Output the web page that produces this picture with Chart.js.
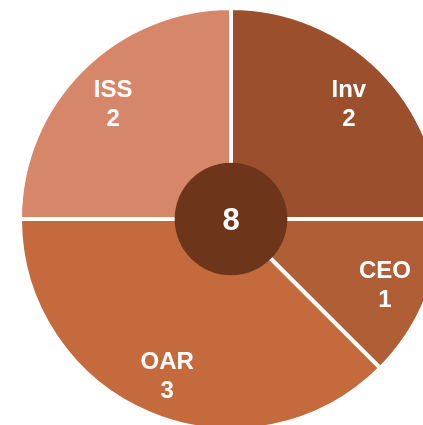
<!DOCTYPE html>
<html>
<head>
<meta charset="utf-8">
<script src="https://cdn.jsdelivr.net/npm/chart.js@4.4.0/dist/chart.umd.min.js"></script>
<style>
  html, body { margin: 0; padding: 0; overflow: hidden; background: #fff; }
  #wrap { width: 423px; height: 425px; overflow: hidden; position: relative; }
  canvas { position: absolute; left: 0; top: 0; }
</style>
</head>
<body>
<div id="wrap"><canvas id="pie" width="462" height="440"></canvas></div>
<script>
// Données
const categories = ['Inv', 'CEO', 'OAR', 'ISS'];
const counts = [2, 1, 3, 2];
const sliceColors = ['#9b4f2d', '#b05e36', '#c56a3d', '#d6876a'];
const centerColor = '#6d351a';

// Etiquettes dans les parts + total au centre
const pieLabels = {
    id: 'pieLabels',
    afterDatasetsDraw(chart) {
        const ctx = chart.ctx;
        const arcs = chart.getDatasetMeta(0).data;
        if (!arcs.length) return;
        const first = arcs[0];
        const cx = first.x, cy = first.y, r = first.outerRadius;

        ctx.save();
        ctx.fillStyle = '#fff';
        ctx.textAlign = 'center';
        ctx.textBaseline = 'middle';
        ctx.font = 'bold 24px "Liberation Sans", Arial, sans-serif';
        arcs.forEach((arc, i) => {
            const mid = (arc.startAngle + arc.endAngle) / 2;
            const lx = cx + Math.cos(mid) * r * 0.79;
            const ly = cy + Math.sin(mid) * r * 0.79;
            ctx.fillText(categories[i], lx, ly - 11);
            ctx.fillText(String(counts[i]), lx, ly + 18);
        });

        // cercle central
        ctx.beginPath();
        ctx.arc(cx, cy, r * 0.267, 0, Math.PI * 2);
        ctx.fillStyle = centerColor;
        ctx.fill();

        const total = counts.reduce((a, b) => a + b, 0);
        ctx.fillStyle = '#fff';
        ctx.font = 'bold 31px "Liberation Sans", Arial, sans-serif';
        ctx.fillText(String(total), cx, cy + 2);
        ctx.restore();
    }
};

new Chart(document.getElementById('pie'), {
    type: 'pie',
    data: {
        labels: categories,
        datasets: [{
            data: counts,
            backgroundColor: sliceColors,
            borderColor: '#fff',
            borderWidth: 4
        }]
    },
    options: {
        responsive: false,
        animation: false,
        layout: {
            padding: { left: 18, right: 18, top: 6, bottom: 8 }
        },
        plugins: {
            legend: { display: false },
            tooltip: { enabled: false }
        }
    },
    plugins: [pieLabels]
});
</script>
</body>
</html>
